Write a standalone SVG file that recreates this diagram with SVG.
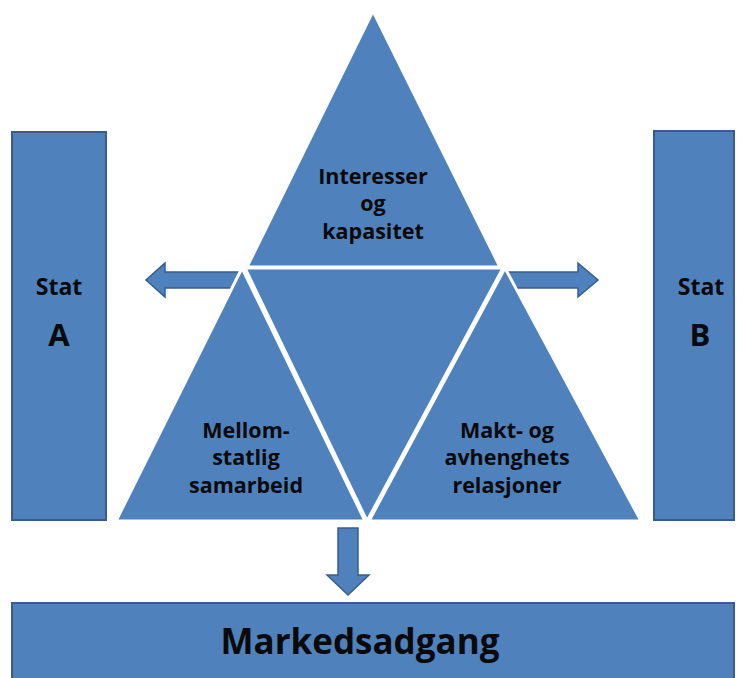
<svg xmlns="http://www.w3.org/2000/svg" width="740" height="678" viewBox="0 0 740 678">
<style>
.box{fill:#4F81BD;stroke:#385D8A;stroke-width:2}
.tri{fill:#4F81BD;stroke:#ffffff;stroke-width:3;stroke-linejoin:miter}
.arr{fill:#4F81BD;stroke:#385D8A;stroke-width:1.5}
text{font-family:"Open Sans","Liberation Sans",sans-serif;font-weight:bold;fill:#0a0a0a;text-anchor:middle}
.t{font-size:21.5px}
.st{font-size:23px}
.big{font-size:31px}
.mk{font-size:35px}
</style>
<rect width="740" height="678" fill="#ffffff"/>
<g id="connectors">
<path class="arr" d="M242,272 L165,272 L165,263 L146,280 L165,297 L165,288 L242,288 Z"/>
<path class="arr" d="M506,272 L578,272 L578,263 L598,280 L578,297 L578,288 L506,288 Z"/>
<path class="arr" d="M338,528 L358,528 L358,575 L369,575 L348,595 L327,575 L338,575 Z"/>
</g>
<g id="statA">
<rect class="box" x="12" y="132" width="94" height="388"/>
<text class="st" x="59" y="295">Stat</text>
<text class="big" x="59" y="346">A</text>
</g>
<g id="statB">
<rect class="box" x="654" y="131" width="80" height="389"/>
<text class="st" x="701" y="295">Stat</text>
<text class="big" x="700" y="346">B</text>
</g>
<g id="interesser">
<polygon class="tri" points="373,11 247,267 500,267"/>
<text class="t" x="373" y="184">Interesser</text>
<text class="t" x="373" y="211">og</text>
<text class="t" x="373" y="239">kapasitet</text>
</g>
<g id="midten">
<polygon class="tri" points="245,268 503,268 367,521"/>
</g>
<g id="mellomstatlig">
<polygon class="tri" points="242,268 365,521 116,521"/>
<text class="t" x="246" y="438">Mellom-</text>
<text class="t" x="246" y="465">statlig</text>
<text class="t" x="246" y="493">samarbeid</text>
</g>
<g id="makt">
<polygon class="tri" points="505,268 641,521 369,521"/>
<text class="t" x="507" y="438">Makt- og</text>
<text class="t" x="507" y="465">avhenghets</text>
<text class="t" x="507" y="493">relasjoner</text>
</g>
<g id="markedsadgang">
<rect class="box" x="12" y="603" width="722" height="90"/>
<text class="mk" x="360" y="654">Markedsadgang</text>
</g>
</svg>
